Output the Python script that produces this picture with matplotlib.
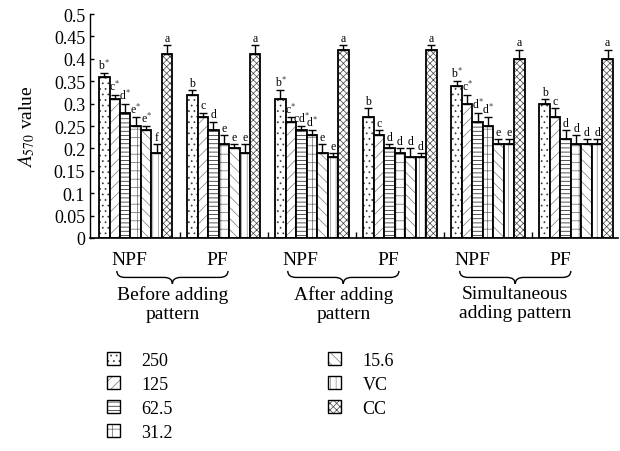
import numpy as np
import matplotlib
matplotlib.use("Agg")
import matplotlib.pyplot as plt
from matplotlib.path import Path
from matplotlib.patches import PathPatch, Rectangle
from matplotlib.legend_handler import HandlerTuple
import matplotlib.transforms as mtransforms

plt.rcParams['font.family'] = ['Liberation Serif', 'DejaVu Serif']
plt.rcParams['mathtext.fontset'] = 'stix'
plt.rcParams['hatch.linewidth'] = 0.5

# concentrations / controls (legend)
series = ["250", "125", "62.5", "31.2", "15.6", "VC", "CC"]
hatches = ['...', '///', '----', '++', '\\\\\\', '|||', 'xxxxx']
hatch_colors = ['#333333', '#777777', '#111111', '#666666', '#777777', '#888888', '#444444']

# six groups: (Before NPF, Before PF, After NPF, After PF, Simult NPF, Simult PF)
values = np.array([
    [0.36, 0.31, 0.28, 0.25, 0.24, 0.19, 0.41],
    [0.32, 0.27, 0.24, 0.21, 0.20, 0.19, 0.41],
    [0.31, 0.26, 0.24, 0.23, 0.19, 0.18, 0.42],
    [0.27, 0.23, 0.20, 0.19, 0.18, 0.18, 0.42],
    [0.34, 0.30, 0.26, 0.25, 0.21, 0.21, 0.40],
    [0.30, 0.27, 0.22, 0.21, 0.21, 0.21, 0.40],
])
errors = np.array([
    [0.008, 0.010, 0.020, 0.020, 0.010, 0.020, 0.020],
    [0.010, 0.010, 0.020, 0.020, 0.010, 0.020, 0.020],
    [0.020, 0.010, 0.010, 0.010, 0.020, 0.010, 0.010],
    [0.020, 0.010, 0.010, 0.010, 0.020, 0.010, 0.010],
    [0.010, 0.020, 0.020, 0.020, 0.010, 0.010, 0.020],
    [0.010, 0.020, 0.020, 0.020, 0.010, 0.010, 0.020],
])
letters = [
    ["b*", "c*", "d*", "e*", "e*", "f", "a"],
    ["b", "c", "d", "e", "e", "e", "a"],
    ["b*", "c*", "cd*", "d*", "e", "e", "a"],
    ["b", "c", "d", "d", "d", "d", "a"],
    ["b*", "c*", "d*", "d*", "e", "e", "a"],
    ["b", "c", "d", "d", "d", "d", "a"],
]
subgroups = ["NPF", "PF"]
conditions = ["Before adding\npattern", "After adding\npattern", "Simultaneous\nadding pattern"]

period = 8.4
n_groups, n_series = values.shape

fig = plt.figure(figsize=(6.2, 4.52), dpi=100)
ax = fig.add_axes([90/620, 1 - 239/452, 528/620, 224/452])

handles = []
for j in range(n_series):
    x = np.arange(n_groups) * period + j
    err = np.vstack([np.zeros(n_groups), errors[:, j]])
    # hatch in grey, outline in black on top
    ax.bar(x, values[:, j], width=1.0, color='white', edgecolor=hatch_colors[j],
           linewidth=0, hatch=hatches[j])
    ax.bar(x, values[:, j], width=1.0, fill=False, edgecolor='black', linewidth=1.3,
           yerr=err, error_kw=dict(ecolor='black', elinewidth=1.0, capsize=3, capthick=1.0))
    h_fill = Rectangle((0, 0), 1, 1, facecolor='white', edgecolor=hatch_colors[j],
                       hatch=hatches[j], linewidth=0)
    h_edge = Rectangle((0, 0), 1, 1, fill=False, edgecolor='black', linewidth=1.0)
    handles.append((h_fill, h_edge))
    for g in range(n_groups):
        lab = letters[g][j]
        if lab.endswith('*'):
            lab = lab[:-1] + r'$^{*}$'
        ax.text(x[g], values[g, j] + errors[g, j] + 0.003, lab,
                ha='center', va='bottom', fontsize=8.5)

ax.set_xlim(-1.36, 49.0)
ax.set_ylim(0, 0.5)
ax.set_yticks(np.arange(0, 0.51, 0.05))
ax.set_yticklabels(["0", "0.05", "0.1", "0.15", "0.2", "0.25", "0.3", "0.35",
                    "0.4", "0.45", "0.5"])
ax.set_xticks([g * period + 7.2 for g in range(n_groups - 1)])
ax.set_xticklabels([])
ax.tick_params(axis='both', direction='in', length=3, labelsize=13, width=1)
ax.tick_params(axis='x', length=4)
for s in ['top', 'right']:
    ax.spines[s].set_visible(False)
ax.spines['left'].set_linewidth(1.0)
ax.spines['bottom'].set_linewidth(1.2)
ax.set_ylabel(r'$\mathit{A}_{570}$ value', fontsize=14, labelpad=12)

trans = mtransforms.blended_transform_factory(ax.transData, ax.transAxes)

def brace(x0, x1, ytop, ybot):
    xc = (x0 + x1) / 2
    ym = (ytop + ybot) / 2
    r = 0.8
    verts = [(x0, ytop), (x0, ym), (x0 + r, ym),
             (xc - r, ym), (xc, ym), (xc, ybot),
             (xc, ym), (xc + r, ym),
             (x1 - r, ym), (x1, ym), (x1, ytop)]
    codes = [Path.MOVETO, Path.CURVE3, Path.CURVE3,
             Path.LINETO, Path.CURVE3, Path.CURVE3,
             Path.CURVE3, Path.CURVE3,
             Path.LINETO, Path.CURVE3, Path.CURVE3]
    ax.add_patch(PathPatch(Path(verts, codes), transform=trans, fill=False,
                           lw=1.0, edgecolor='black', clip_on=False))

shifts = [0.6, 1.1, 1.5]
for k, cond in enumerate(conditions):
    c1 = (2 * k) * period + 3
    c2 = (2 * k + 1) * period + 3
    s = shifts[k]
    ax.text(c1 - s, -0.094, subgroups[0], transform=trans, ha='center', va='center', fontsize=14)
    ax.text(c2 - s, -0.094, subgroups[1], transform=trans, ha='center', va='center', fontsize=14)
    x0, x1 = c1 - s - 1.2, c2 - s + 1.0
    brace(x0, x1, -0.147, -0.205)
    ax.text((x0 + x1) / 2, -0.212, cond, transform=trans, ha='center', va='top',
            fontsize=14, linespacing=1.15)

fig.legend(handles, series, loc='upper left', bbox_to_anchor=(98/620, 1 - 344/452),
           ncol=2, frameon=False, fontsize=13, borderpad=0, handlelength=0.7,
           handleheight=0.7, handletextpad=1.2, columnspacing=8.6, labelspacing=0.38,
           handler_map={tuple: HandlerTuple(ndivide=1, pad=0)})

fig.savefig("out.png", dpi=100)
